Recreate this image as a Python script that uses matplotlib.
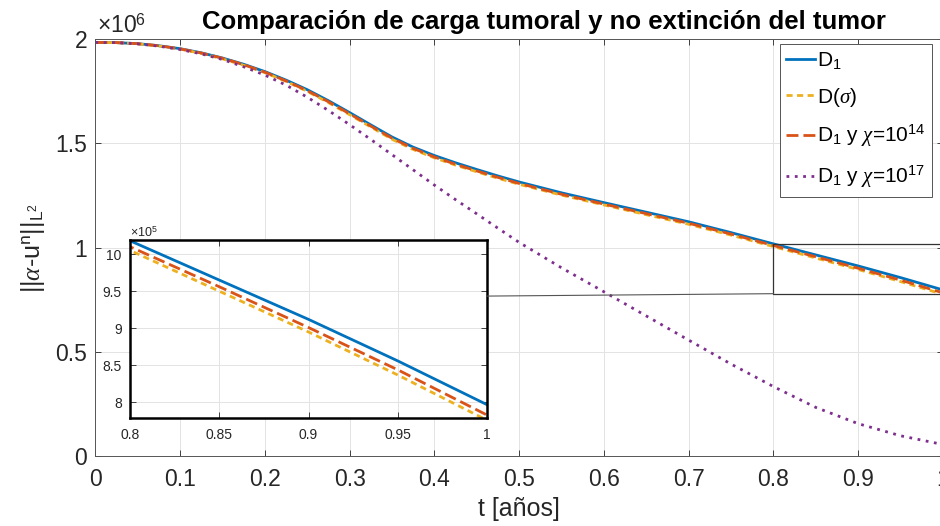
import matplotlib
matplotlib.use('Agg')
import numpy as np
from matplotlib import pyplot as plt, ticker
from matplotlib.patches import Rectangle, ConnectionPatch

plt.rcParams['font.family'] = ['Liberation Sans', 'DejaVu Sans']
plt.rcParams['mathtext.fontset'] = 'custom'
plt.rcParams['mathtext.rm'] = 'Liberation Sans'
plt.rcParams['mathtext.it'] = 'Liberation Serif:italic'
plt.rcParams['mathtext.bf'] = 'Liberation Sans:bold'

# time in years
t = [0.0, 0.025, 0.05, 0.075, 0.1, 0.125, 0.15, 0.175, 0.2, 0.225, 0.25,
     0.275, 0.3, 0.325, 0.35, 0.375, 0.4, 0.425, 0.45, 0.475, 0.5,
     0.55, 0.6, 0.65, 0.7, 0.75, 0.8, 0.85, 0.9, 0.95, 1.0]

# tumour load (x 1e6)
d1 = [1.985, 1.984, 1.979, 1.969, 1.955, 1.935, 1.910, 1.880, 1.845, 1.804,
      1.758, 1.705, 1.648, 1.589, 1.531, 1.482, 1.442, 1.407, 1.375, 1.344,
      1.315, 1.263, 1.216, 1.170, 1.124, 1.072, 1.018, 0.965, 0.912, 0.856,
      0.797]
d_sigma = [1.985, 1.984, 1.978, 1.968, 1.953, 1.932, 1.906, 1.875, 1.840,
           1.798, 1.750, 1.696, 1.638, 1.579, 1.520, 1.471, 1.431, 1.396,
           1.364, 1.333, 1.304, 1.252, 1.205, 1.158, 1.112, 1.060, 1.005,
           0.950, 0.895, 0.837, 0.776]
d1_chi14 = [1.985, 1.984, 1.979, 1.969, 1.954, 1.934, 1.909, 1.878, 1.842,
            1.800, 1.753, 1.700, 1.642, 1.583, 1.525, 1.476, 1.435, 1.400,
            1.368, 1.337, 1.308, 1.256, 1.209, 1.163, 1.117, 1.065, 1.010,
            0.956, 0.901, 0.844, 0.783]
d1_chi17 = [1.985, 1.984, 1.978, 1.967, 1.951, 1.930, 1.903, 1.868, 1.828,
            1.780, 1.722, 1.658, 1.590, 1.519, 1.446, 1.373, 1.300, 1.230,
            1.162, 1.093, 1.025, 0.903, 0.788, 0.672, 0.556, 0.441, 0.333,
            0.233, 0.155, 0.097, 0.055]

labels = ['D$_1$', 'D($\\sigma$)', 'D$_1$ y $\\chi$=10$^{14}$',
          'D$_1$ y $\\chi$=10$^{17}$']
series = [np.array(s) * 1e6 for s in (d1, d_sigma, d1_chi14, d1_chi17)]
colors = ['#0072BD', '#EDB120', '#D95319', '#7E2F8E']
styles = ['-', (0, (2.2, 1.6)), (0, (4.3, 1.8)), (0, (1, 2))]

x_ticks = [0, 0.1, 0.2, 0.3, 0.4, 0.5, 0.6, 0.7, 0.8, 0.9, 1]
y_ticks = [0, 0.5e6, 1e6, 1.5e6, 2e6]
zoom_x = [0.8, 1.0]
zoom_y = [7.79e5, 10.19e5]
zoom_x_ticks = [0.8, 0.85, 0.9, 0.95, 1]
zoom_y_ticks = [8e5, 8.5e5, 9e5, 9.5e5, 10e5]

axis_gray = '#262626'


def style_axes(ax, size):
    ax.tick_params(direction='in', length=4, width=0.6, colors=axis_gray,
                   labelsize=size, top=True, right=True, pad=6)
    ax.grid(True, color='#e3e3e3', linewidth=0.7)
    ax.set_axisbelow(True)


fig = plt.figure(figsize=(9.4, 5.26), dpi=100)
ax = fig.add_axes([0.1015, 0.1331, 0.9017, 0.7922])

for values, color, ls, label in zip(series, colors, styles, labels):
    ax.plot(t, values, color=color, linestyle=ls, linewidth=2,
            dash_capstyle='butt', label=label)

ax.set_xlim(0, 1)
ax.set_ylim(0, 2e6)
ax.set_xticks(x_ticks)
ax.set_yticks(y_ticks)
ax.xaxis.set_major_formatter(ticker.FuncFormatter(lambda v, p: '%g' % v))
ax.yaxis.set_major_formatter(
    ticker.FuncFormatter(lambda v, p: '%g' % (v / 1e6)))
style_axes(ax, 16.5)
ax.tick_params(axis='x', pad=9)
for s in ax.spines.values():
    s.set_color('#555555')
    s.set_linewidth(0.7)

ax.text(0.002, 1.003, '$\\times$10$^6$', transform=ax.transAxes,
        fontsize=16.5, color=axis_gray, ha='left', va='bottom')
ax.set_xlabel('t [años]', fontsize=18, color=axis_gray, labelpad=4)
ax.set_ylabel('||$\\alpha$-u$^{\\rm n}$||$_{{\\rm L}^2}$', fontsize=18,
              color=axis_gray, labelpad=6)
fig.text(0.579, 0.945, 'Comparación de carga tumoral y no extinción del tumor',
         fontsize=18.5, fontweight='bold', ha='center', va='baseline')

leg = ax.legend(loc='upper right', bbox_to_anchor=(0.987, 0.989),
                borderaxespad=0, fontsize=15, handlelength=1.4,
                handletextpad=0.1, labelspacing=0.7, borderpad=0.3,
                fancybox=False, framealpha=1, edgecolor='#555555')
leg.get_frame().set_linewidth(0.7)

# zoom box on the main axes
ax.add_patch(Rectangle((zoom_x[0], zoom_y[0]), zoom_x[1] - zoom_x[0],
                       zoom_y[1] - zoom_y[0], fill=False,
                       edgecolor='#333333', linewidth=0.9, zorder=4))

# inset
axin = fig.add_axes([0.1383, 0.2053, 0.3798, 0.3384])
for values, color, ls in zip(series[:3], colors[:3], styles[:3]):
    axin.plot(t, values, color=color, linestyle=ls, linewidth=2,
              dash_capstyle='butt')
axin.set_xlim(*zoom_x)
axin.set_ylim(*zoom_y)
axin.set_xticks(zoom_x_ticks)
axin.set_yticks(zoom_y_ticks)
axin.xaxis.set_major_formatter(ticker.FuncFormatter(lambda v, p: '%g' % v))
axin.yaxis.set_major_formatter(
    ticker.FuncFormatter(lambda v, p: '%g' % (v / 1e5)))
style_axes(axin, 10)
axin.tick_params(axis='x', pad=7)
for s in axin.spines.values():
    s.set_color('black')
    s.set_linewidth(1.8)
axin.text(0.0, 1.0, '$\\times$10$^5$', transform=axin.transAxes,
          fontsize=9, color=axis_gray, ha='left', va='bottom')

con = ConnectionPatch(xyA=(zoom_x[0], zoom_y[0]), coordsA=ax.transData,
                      xyB=(1.0, 0.685), coordsB=axin.transAxes,
                      color='#555555', linewidth=0.8)
fig.add_artist(con)

fig.savefig('out.png', dpi=100)
